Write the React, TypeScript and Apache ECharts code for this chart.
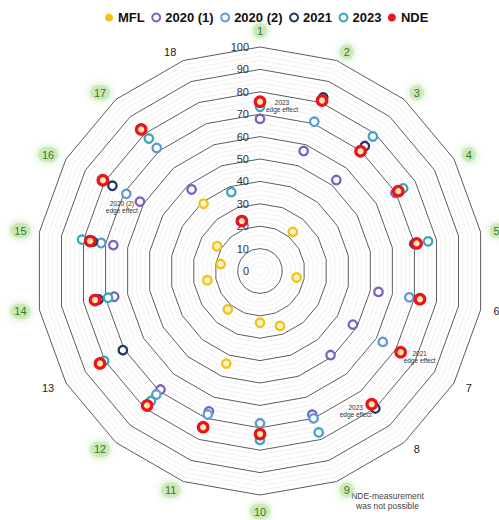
import { useEffect, useRef } from 'react';
import * as echarts from 'echarts';

// Measurement positions around the part (spokes, clockwise from the top)
const INDICATORS = ['1', '2', '3', '4', '5', '6', '7', '8', '9', '10', '11', '12', '13', '14', '15', '16', '17', '18'];
// Positions marked with a green highlight
const HIGHLIGHTED = ['1', '2', '3', '4', '5', '9', '10', '11', '12', '14', '15', '16', '17'];
const RING_TICKS = [0, 10, 20, 30, 40, 50, 60, 70, 80, 90, 100];

// Values per position (null = no measurement)
const MFL = [null, null, 22.8, null, null, 16.6, null, null, 26.1, 23.1, 44.0, 22.4, null, 23.9, 17.8, 22.1, 39.2, null];
const Y2020_1 = [67.9, 57.0, 53.0, 69.8, null, 53.7, 47.9, 49.0, 68.3, null, 66.7, 69.1, null, 66.1, 66.5, 61.9, 47.5, null];
const Y2020_2 = [null, 70.9, null, null, null, 67.7, 63.3, null, 70.0, 68.0, 68.2, 72.0, null, null, 72.0, 68.9, 71.7, null];
const Y2021 = [null, 82.5, 72.8, null, 70.0, null, null, 80.1, null, null, null, null, 70.7, 73.2, 75.7, 76.1, null, null];
const Y2023 = [73.3, null, 78.4, 73.8, 76.2, null, null, null, 76.7, 75.4, null, 75.8, 80.4, 68.9, 80.7, null, 77.2, 37.5];
const NDE = [75.6, 81.0, 69.8, 71.3, 71.0, 72.5, 72.5, 77.6, null, 72.8, 74.2, 78.4, 82.5, 74.8, 77.0, 81.0, 82.5, 23.7];

const SERIES_NAMES = ['MFL', '2020 (1)', '2020 (2)', '2021', '2023', 'NDE'];
const SERIES_VALUES = [MFL, Y2020_1, Y2020_2, Y2021, Y2023, NDE];

// Notes attached to individual points
const NOTES = [
  { series: 'NDE', indicator: '1', text: '2023\nedge effect' },
  { series: '2020 (2)', indicator: '16', text: '2020 (2)\nedge effect' },
  { series: 'NDE', indicator: '7', text: '2021\nedge effect' },
  { series: 'NDE', indicator: '8', text: '2023\nedge effect' },
];
const NOTE_OFFSETS: Record<string, number[]> = {
  'NDE|1': [22, 4.5],
  '2020 (2)|16': [-4.5, 13.5],
  'NDE|7': [19, 5],
  'NDE|8': [-16, 6.5],
};
const FOOTNOTE = 'NDE-measurement\nwas not possible';

const COLORS: Record<string, string> = {
  MFL: '#f2c21b',
  '2020 (1)': '#7d60c6',
  '2020 (2)': '#5f9bd3',
  '2021': '#1f3963',
  '2023': '#3aa8b8',
  NDE: '#e8141f',
};
const FILLS: Record<string, string> = {
  MFL: '#fff4c4',
  '2020 (1)': '#ffffff',
  '2020 (2)': '#ffffff',
  '2021': '#ffffff',
  '2023': '#ffffff',
  NDE: '#ffe6a8',
};

const FONT = '"Liberation Sans", Arial, Helvetica, sans-serif';
const CX = 260;
const CY = 271;
const R = 224;

export default function App() {
  const ref = useRef<HTMLDivElement>(null);

  useEffect(() => {
    if (!ref.current) return;
    const chart = echarts.init(ref.current, null, { renderer: 'svg' });

    const series = SERIES_NAMES.map((name, si) => {
      const isNDE = name === 'NDE';
      const data = SERIES_VALUES[si]
        .map((v, i) => {
          if (v == null) return null;
          const note = NOTES.find((n) => n.series === name && n.indicator === INDICATORS[i]);
          const item: any = { value: [v, INDICATORS[i]] };
          if (note) {
            item.label = {
              show: true,
              position: 'inside',
              offset: NOTE_OFFSETS[`${name}|${INDICATORS[i]}`],
              formatter: note.text,
              fontSize: 6.5,
              lineHeight: 7,
              color: '#333',
              align: 'center',
              verticalAlign: 'middle',
              fontFamily: FONT,
            };
          }
          return item;
        })
        .filter(Boolean);
      return {
        name,
        type: 'scatter',
        coordinateSystem: 'polar',
        symbol: 'circle',
        symbolSize: isNDE ? 9.5 : 8.5,
        itemStyle: {
          color: FILLS[name],
          borderColor: COLORS[name],
          borderWidth: isNDE ? 3.2 : 2.3,
          opacity: 1,
        },
        label: { show: false },
        emphasis: { disabled: true },
        data,
      };
    });

    const legendData = SERIES_NAMES.map((name) =>
      name === 'MFL' || name === 'NDE'
        ? { name, itemStyle: { color: COLORS[name], borderWidth: 0 } }
        : { name, itemStyle: { color: '#ffffff', borderColor: COLORS[name], borderWidth: 2 } }
    );

    // The radar lays its indicators out counter-clockwise, so list them in reverse after the first
    const radarOrder = [INDICATORS[0], ...INDICATORS.slice(1).reverse()];

    chart.setOption({
      animation: false,
      backgroundColor: '#ffffff',
      textStyle: { fontFamily: FONT },
      legend: {
        data: legendData,
        icon: 'circle',
        itemWidth: 8,
        itemHeight: 8,
        itemGap: 6.5,
        left: 100,
        top: 6,
        textStyle: { fontSize: 13, fontWeight: 'bold', color: '#111', fontFamily: FONT },
        selectedMode: false,
      },
      radar: {
        center: [CX, CY],
        radius: R,
        startAngle: 90,
        shape: 'polygon',
        splitNumber: 50,
        nameGap: 9,
        indicator: radarOrder.map((name, i) =>
          i === 0
            ? {
                name,
                min: RING_TICKS[0],
                max: RING_TICKS[RING_TICKS.length - 1],
                axisLabel: {
                  show: true,
                  margin: 11,
                  fontSize: 11,
                  color: '#333',
                  fontFamily: FONT,
                  formatter: (v: number) => (RING_TICKS.includes(Math.round(v * 1000) / 1000) ? String(Math.round(v)) : ''),
                },
              }
            : { name, min: RING_TICKS[0], max: RING_TICKS[RING_TICKS.length - 1] }
        ),
        axisName: {
          fontFamily: FONT,
          formatter: (name: string) => (HIGHLIGHTED.includes(name) ? `{g|${name}}` : `{p|${name}}`),
          rich: {
            g: {
              fontSize: 11,
              color: '#3a7a2a',
              backgroundColor: 'rgba(190,228,165,0.6)',
              borderRadius: 8,
              padding: [2, 4],
              shadowBlur: 9,
              shadowColor: 'rgba(150,210,120,0.95)',
              fontFamily: FONT,
            },
            p: { fontSize: 11, color: '#222', padding: [2, 4], fontFamily: FONT },
          },
        },
        axisLine: { show: false },
        axisTick: { show: false },
        axisLabel: { show: false },
        splitArea: { show: false },
        splitLine: {
          lineStyle: {
            color: ['#5c5c5c', '#f1f1f1', '#f1f1f1', '#f1f1f1', '#f1f1f1'],
            width: 1,
          },
        },
      },
      polar: { center: [CX, CY], radius: R },
      angleAxis: {
        type: 'category',
        data: INDICATORS,
        boundaryGap: false,
        startAngle: 90,
        clockwise: true,
        show: false,
      },
      radiusAxis: {
        type: 'value',
        min: RING_TICKS[0],
        max: RING_TICKS[RING_TICKS.length - 1],
        show: false,
      },
      graphic: [
        {
          type: 'text',
          x: 387.5,
          y: 501,
          style: {
            text: FOOTNOTE,
            fontSize: 8.5,
            lineHeight: 10,
            fontFamily: FONT,
            fill: '#444',
            align: 'center',
            verticalAlign: 'middle',
          },
        },
      ],
      series,
    });

    return () => chart.dispose();
  }, []);

  return (
    <div
      ref={ref}
      style={{ position: 'absolute', left: 0, top: 0, width: 499, height: 520 }}
    />
  );
}
